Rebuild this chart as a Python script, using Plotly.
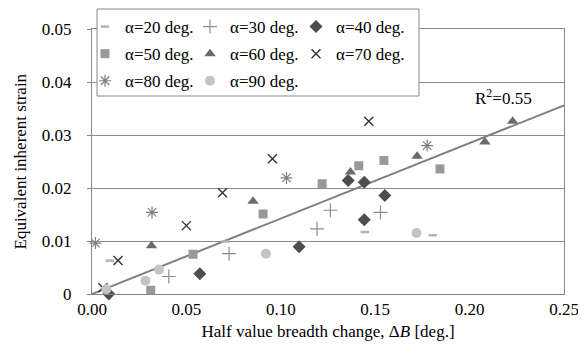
import plotly.graph_objects as go

# ---- data ----
a20_x = [0.0094, 0.0707, 0.1445, 0.1804]
a20_y = [0.0063, 0.0099, 0.0117, 0.0111]

a30_x = [0.0407, 0.0726, 0.1192, 0.1263, 0.1528]
a30_y = [0.0033, 0.0076, 0.0123, 0.0158, 0.0154]

a40_x = [0.0089, 0.0571, 0.1097, 0.1357, 0.1442, 0.1551, 0.1442]
a40_y = [0.0000, 0.0038, 0.0089, 0.0214, 0.0211, 0.0186, 0.0140]

a50_x = [0.0311, 0.0535, 0.0906, 0.1219, 0.1413, 0.1546, 0.1843]
a50_y = [0.0007, 0.0075, 0.0151, 0.0208, 0.0242, 0.0252, 0.0236]

a60_x = [0.0315, 0.0853, 0.1369, 0.1722, 0.2081, 0.2228]
a60_y = [0.0091, 0.0175, 0.0230, 0.0260, 0.0287, 0.0326]

a70_x = [0.0058, 0.0138, 0.0500, 0.0691, 0.0956, 0.1466]
a70_y = [0.0012, 0.0063, 0.0129, 0.0191, 0.0255, 0.0326]

a80_x = [0.0018, 0.0318, 0.1030, 0.1775]
a80_y = [0.0096, 0.0154, 0.0219, 0.0280]

a90_x = [0.0076, 0.0283, 0.0355, 0.0921, 0.1719]
a90_y = [0.0009, 0.0025, 0.0046, 0.0076, 0.0115]

trend_x = [0.0, 0.25]
trend_y = [0.0, 0.0356]
r2_label = "R<sup>2</sup>=0.55"

x_ticks = [0.00, 0.05, 0.10, 0.15, 0.20, 0.25]
x_ticklabels = ["0.00", "0.05", "0.10", "0.15", "0.20", "0.25"]
y_ticks = [0, 0.01, 0.02, 0.03, 0.04, 0.05]
y_ticklabels = ["0", "0.01", "0.02", "0.03", "0.04", "0.05"]

x_title = "Half value breadth change, Δ<i>B</i> [deg.]"
y_title = "Equivalent inherent strain"

FONT = "Liberation Serif"
FS = 17

# legend columns: legend -> col1, legend2 -> col2, legend3 -> col3
series = [
    ("α=20 deg.", a20_x, a20_y, dict(symbol="line-ew-open", size=6, color="#b3b3b3", line=dict(color="#b3b3b3", width=2.5)), "legend"),
    ("α=30 deg.", a30_x, a30_y, dict(symbol="cross-thin-open", size=10, color="#8c8c8c", line=dict(color="#8c8c8c", width=1.2)), "legend2"),
    ("α=40 deg.", a40_x, a40_y, dict(symbol="diamond", size=10, color="#4d4d4d"), "legend3"),
    ("α=50 deg.", a50_x, a50_y, dict(symbol="square", size=9, color="#999999"), "legend"),
    ("α=60 deg.", a60_x, a60_y, dict(symbol="triangle-up", size=10, color="#6b6b6b"), "legend2"),
    ("α=70 deg.", a70_x, a70_y, dict(symbol="x-thin-open", size=9, color="#333333", line=dict(color="#333333", width=1.4)), "legend3"),
    ("α=80 deg.", a80_x, a80_y, dict(symbol="asterisk-open", size=10, color="#7f7f7f", line=dict(color="#7f7f7f", width=1.2)), "legend"),
    ("α=90 deg.", a90_x, a90_y, dict(symbol="circle", size=10, color="#c4c4c4"), "legend2"),
]

# the page body has an 8px default margin, so the figure is drawn 8px in from
# the top-left corner of the 586x358 window
OFF = 8
W, H = 586 - OFF, 358 - OFF
L, R, T, B = 92 - OFF, 22, 29 - OFF, 64
PW, PH = W - L - R, H - T - B

fig = go.Figure()

fig.add_trace(go.Scatter(x=trend_x, y=trend_y, mode="lines",
                         line=dict(color="#808080", width=2),
                         showlegend=False, hoverinfo="skip"))

for i, (name, xs, ys, mk, lg) in enumerate(series):
    fig.add_trace(go.Scatter(x=xs, y=ys, mode="markers", name=name,
                             marker=mk, legend=lg, legendgroup="g%d" % i,
                             cliponaxis=False))

fig.add_annotation(x=0.2182, y=0.0372, xref="x", yref="y", text=r2_label,
                   showarrow=False, font=dict(family=FONT, size=FS, color="#000"))

# y-axis title as rotated text, centred at page x = 20
fig.add_annotation(x=(20 - OFF - L) / PW, y=0.5, xref="paper", yref="paper",
                   xanchor="center", yanchor="middle", textangle=-90,
                   text=y_title, showarrow=False,
                   font=dict(family=FONT, size=FS, color="#000"))

# legend box (page-pixel geometry converted to paper coords)
bx0, bx1, by0, by1 = 97 - OFF, 419 - OFF, 9 - OFF, 96 - OFF
fig.add_shape(type="rect", xref="paper", yref="paper",
              x0=(bx0 - L) / PW, x1=(bx1 - L) / PW,
              y0=(H - B - by1) / PH, y1=(H - B - by0) / PH,
              fillcolor="white", line=dict(color="#888888", width=1), layer="above")

leg_top = 1
leg_common = dict(orientation="v", bgcolor="rgba(0,0,0,0)", borderwidth=0,
                  font=dict(family=FONT, size=FS, color="#000"),
                  xref="container", yref="container",
                  xanchor="left", yanchor="top", y=1 - leg_top / H,
                  itemwidth=30, tracegroupgap=2)

fig.update_layout(
    width=W, height=H,
    margin=dict(l=L, r=R, t=T, b=B, autoexpand=False),
    paper_bgcolor="white", plot_bgcolor="white",
    font=dict(family=FONT, size=FS, color="#000"),
    legend=dict(leg_common, x=(85 - OFF) / W),
    legend2=dict(leg_common, x=(190 - OFF) / W),
    legend3=dict(leg_common, x=(296 - OFF) / W),
    xaxis=dict(range=[0, 0.25], tickvals=x_ticks, ticktext=x_ticklabels,
               showgrid=False, zeroline=False, automargin=False,
               showline=True, linecolor="#868686", linewidth=1, mirror=True,
               ticks="", tickfont=dict(family=FONT, size=FS, color="#000"),
               title=dict(text=x_title,
                          font=dict(family=FONT, size=FS, color="#000"), standoff=6)),
    yaxis=dict(range=[0, 0.05], tickvals=y_ticks, ticktext=y_ticklabels,
               showgrid=True, gridcolor="#8c8c8c", gridwidth=1, zeroline=False,
               automargin=False,
               showline=True, linecolor="#868686", linewidth=1, mirror=True,
               ticks="outside", ticklen=4, tickcolor="#868686",
               ticklabelstandoff=12,
               tickfont=dict(family=FONT, size=FS, color="#000")),
)

fig.write_html("out.html", config={"displayModeBar": False, "responsive": False})
